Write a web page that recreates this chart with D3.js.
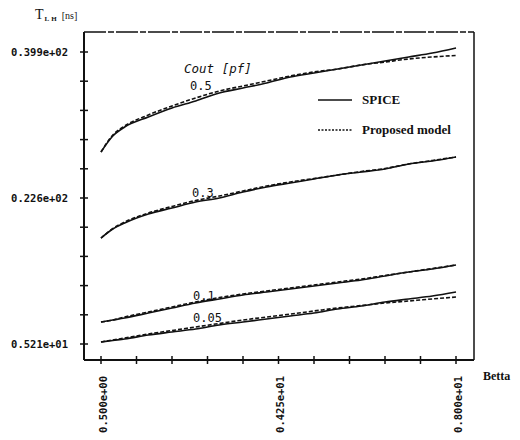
<!DOCTYPE html>
<html>
<head>
<meta charset="utf-8">
<script src="https://cdn.jsdelivr.net/npm/d3@7"></script>
<style>
  html, body { margin: 0; padding: 0; background: #fff; }
  svg { display: block; }
</style>
</head>
<body>
<svg id="chart" width="520" height="440"></svg>
<script>
// ---- data ----
const betta = [0.5, 0.75, 1, 1.5, 2, 2.5, 3, 3.5, 4, 4.5, 5, 5.5, 6, 6.5, 7, 7.5, 8];
const coutLabels = ["0.5", "0.3", "0.1", "0.05"];

const spice05  = [28.02, 29.92, 30.99, 32.18, 33.25, 34.08, 35.03, 35.62, 36.22, 36.93, 37.41, 37.88, 38.36, 38.83, 39.31, 39.78, 40.38];
const model05  = [28.02, 30.04, 31.11, 32.42, 33.49, 34.44, 35.27, 35.86, 36.46, 37.05, 37.53, 37.88, 38.36, 38.71, 39.07, 39.31, 39.49];
const spice03  = [17.80, 18.87, 19.59, 20.66, 21.37, 22.08, 22.56, 23.27, 23.86, 24.34, 24.81, 25.29, 25.64, 26.00, 26.60, 26.95, 27.43];
const model03  = [17.80, 18.93, 19.70, 20.77, 21.55, 22.26, 22.79, 23.39, 23.98, 24.46, 24.87, 25.29, 25.70, 26.06, 26.60, 27.01, 27.43];
const spice01  = [7.82, 8.06, 8.30, 8.89, 9.49, 10.08, 10.56, 11.03, 11.39, 11.74, 12.10, 12.46, 12.81, 13.29, 13.76, 14.12, 14.59];
const model01  = [7.82, 8.06, 8.42, 9.01, 9.61, 10.20, 10.73, 11.15, 11.51, 11.86, 12.22, 12.58, 12.93, 13.35, 13.76, 14.18, 14.59];
const spice005 = [5.45, 5.63, 5.80, 6.28, 6.64, 6.99, 7.47, 7.82, 8.18, 8.54, 8.89, 9.37, 9.72, 10.20, 10.56, 10.91, 11.39];
const model005 = [5.45, 5.69, 5.92, 6.40, 6.81, 7.23, 7.65, 8.06, 8.42, 8.77, 9.13, 9.49, 9.78, 10.08, 10.32, 10.56, 10.79];

const yTickValues = d3.range(11).map(i => 5.21 + i * (39.9 - 5.21) / 10);
const yTickLabels = {0: "0.521e+01", 5: "0.226e+02", 10: "0.399e+02"};
const xTickValues = d3.range(11).map(i => 0.5 + i * 0.75);
const xTickLabels = {0: "0.500e+00", 5: "0.425e+01", 10: "0.800e+01"};
const legendItems = ["SPICE", "Proposed model"];

// ---- layout ----
const svg = d3.select("#chart");
const x = d3.scaleLinear().domain([0.5, 8]).range([101, 456]);
const y = d3.scaleLinear().domain([5.21, 39.9]).range([344, 52]);
const axL = 84, axR = 474, axT = 32, axB = 360;
const ink = "#111";

// frame
svg.append("line").attr("x1", axL).attr("x2", axR).attr("y1", axT).attr("y2", axT)
  .attr("stroke", ink).attr("stroke-width", 1.5).attr("stroke-dasharray", "22,2,6,2");
svg.append("line").attr("x1", axR).attr("x2", axR).attr("y1", axT).attr("y2", axB)
  .attr("stroke", ink).attr("stroke-width", 1.5);
svg.append("line").attr("x1", axL).attr("x2", axL).attr("y1", axT).attr("y2", axB)
  .attr("stroke", ink).attr("stroke-width", 2);
svg.append("line").attr("x1", axL).attr("x2", axR).attr("y1", axB).attr("y2", axB)
  .attr("stroke", ink).attr("stroke-width", 2);

// y ticks
svg.selectAll(".yt").data(yTickValues).enter().append("line")
  .attr("x1", axL - 4).attr("x2", axL + 4)
  .attr("y1", d => y(d)).attr("y2", d => y(d))
  .attr("stroke", ink).attr("stroke-width", 1.5);
svg.selectAll(".yl").data(yTickValues.map((v, i) => ({v, i})).filter(d => yTickLabels[d.i]))
  .enter().append("text")
  .attr("x", 68).attr("y", d => y(d.v)).attr("dy", "0.35em")
  .attr("text-anchor", "end")
  .attr("font-family", "DejaVu Sans Mono").attr("font-size", 10.5).attr("font-weight", "bold")
  .attr("fill", ink)
  .text(d => yTickLabels[d.i]);

// x ticks
svg.selectAll(".xt").data(xTickValues).enter().append("line")
  .attr("x1", d => x(d)).attr("x2", d => x(d))
  .attr("y1", axB - 4).attr("y2", axB + 4)
  .attr("stroke", ink).attr("stroke-width", 1.5);
svg.selectAll(".xl").data(xTickValues.map((v, i) => ({v, i})).filter(d => xTickLabels[d.i]))
  .enter().append("text")
  .attr("transform", d => `translate(${x(d.v) + 2},376) rotate(-90)`)
  .attr("dy", "0.35em")
  .attr("text-anchor", "end")
  .attr("font-family", "DejaVu Sans Mono").attr("font-size", 10.5).attr("font-weight", "bold")
  .attr("fill", ink)
  .text(d => xTickLabels[d.i]);

// axis titles
svg.append("text").attr("x", 483).attr("y", 380)
  .attr("font-family", "Liberation Serif").attr("font-size", 12).attr("font-weight", "bold")
  .attr("fill", ink).text("Betta");
const yt = svg.append("text").attr("x", 35).attr("y", 19)
  .attr("font-family", "Liberation Serif").attr("fill", ink);
yt.append("tspan").attr("font-size", 14).text("T");
yt.append("tspan").attr("font-size", 7).attr("font-weight", "bold").attr("dy", 2).attr("dx", 1)
  .attr("letter-spacing", 2).text("LH");
yt.append("tspan").attr("font-size", 10).attr("dy", -2).attr("dx", 3).text("[ns]");

// curves
const line = d3.line().x(d => x(d[0])).y(d => y(d[1])).curve(d3.curveMonotoneX);
const curves = [
  {spice: spice05, model: model05},
  {spice: spice03, model: model03},
  {spice: spice01, model: model01},
  {spice: spice005, model: model005}
];
curves.forEach(c => {
  svg.append("path").datum(betta.map((b, i) => [b, c.spice[i]])).attr("d", line)
    .attr("fill", "none").attr("stroke", ink).attr("stroke-width", 1.6);
  svg.append("path").datum(betta.map((b, i) => [b, c.model[i]])).attr("d", line)
    .attr("fill", "none").attr("stroke", ink).attr("stroke-width", 1.6)
    .attr("stroke-dasharray", "4,2");
});

// curve labels
const labelPos = [[190, 90], [192, 197], [193, 300], [193, 322]];
svg.selectAll(".cl").data(coutLabels).enter().append("text")
  .attr("x", (d, i) => labelPos[i][0]).attr("y", (d, i) => labelPos[i][1])
  .attr("font-family", "DejaVu Sans Mono").attr("font-size", 12).attr("fill", ink)
  .text(d => d);
svg.append("text").attr("x", 184).attr("y", 73)
  .attr("font-family", "DejaVu Sans Mono").attr("font-style", "italic").attr("font-size", 12.5)
  .attr("fill", ink).text("Cout [pf]");

// legend
legendItems.forEach((t, i) => {
  const ly = 100 + i * 30;
  svg.append("line").attr("x1", 318).attr("x2", 352).attr("y1", ly).attr("y2", ly)
    .attr("stroke", ink).attr("stroke-width", i === 0 ? 1.6 : 1.3)
    .attr("stroke-dasharray", i === 0 ? null : "2,1.5");
  svg.append("text").attr("x", 362).attr("y", ly + 4)
    .attr("font-family", "Liberation Serif").attr("font-size", 13).attr("font-weight", "bold")
    .attr("fill", ink).text(t);
});
</script>
</body>
</html>
